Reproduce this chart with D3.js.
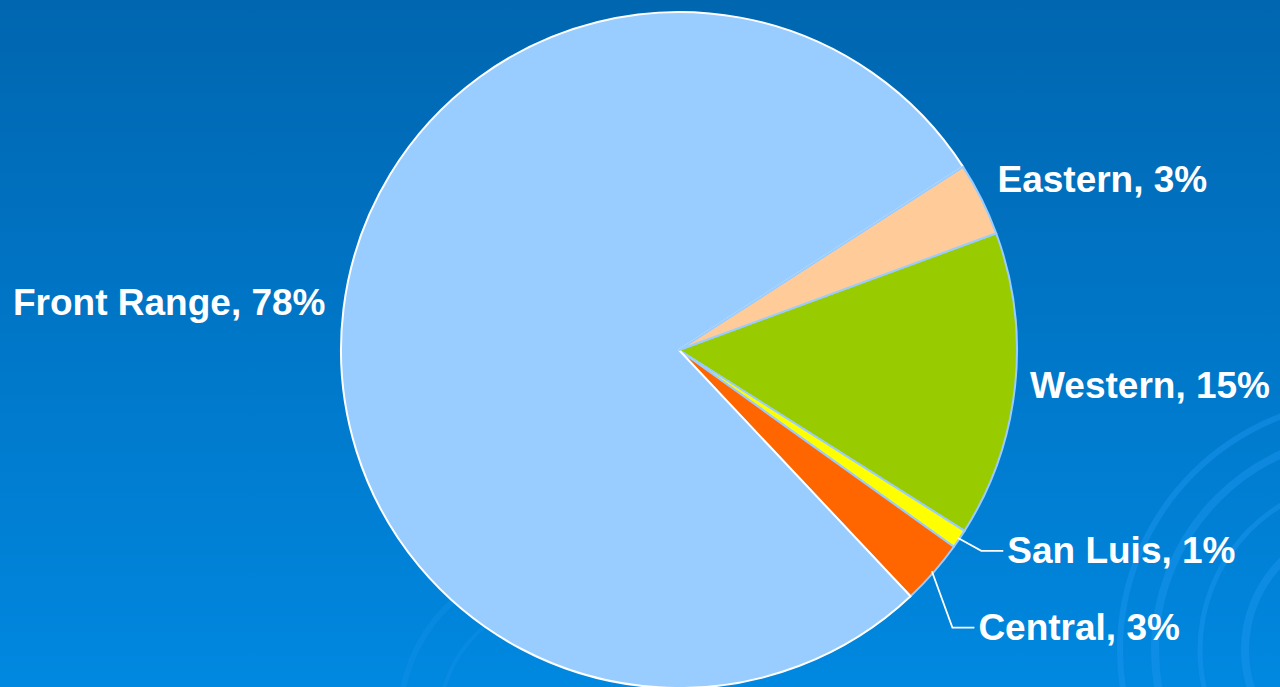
<!DOCTYPE html>
<html>
<head>
<meta charset="utf-8">
<script src="https://cdn.jsdelivr.net/npm/d3@7"></script>
<style>
  html, body { margin: 0; padding: 0; overflow: hidden; }
  svg { display: block; }
</style>
</head>
<body>
<div id="chart"></div>
<script>
// 1: DATA
const categories = ["Eastern", "Western", "San Luis", "Central", "Front Range"];
const shares = [3.5, 14.6, 0.9, 3.1, 77.9];
const labelTexts = ["Eastern, 3%", "Western, 15%", "San Luis, 1%", "Central, 3%", "Front Range, 78%"];
const sliceColors = ["#FFCC99", "#99CC00", "#FFFF00", "#FF6600", "#99CCFF"];

// layout
const W = 1280, H = 687;
const cx = 679, cy = 350, radius = 338;
const startDeg = 57.2;

// label nudges from the slice edge (dx, baseline dy) and whether a leader line is drawn
const labelLayout = {
    "Eastern":     { dx: 16,  dy: -7, leader: false },
    "Western":     { dx: 15,  dy: 12, leader: false },
    "San Luis":    { dx: 48,  dy: 24, leader: true },
    "Central":     { dx: 45,  dy: 67, leader: true },
    "Front Range": { dx: -18, dy: 6,  leader: false }
};

const svg = d3.select("#chart")
    .append("svg")
    .attr("width", W)
    .attr("height", H);

// background gradient
const defs = svg.append("defs");
const grad = defs.append("linearGradient")
    .attr("id", "bg")
    .attr("x1", 0).attr("y1", 0).attr("x2", 0).attr("y2", 1);
grad.append("stop").attr("offset", "0%").attr("stop-color", "#0066B0");
grad.append("stop").attr("offset", "100%").attr("stop-color", "#0088E0");

svg.append("rect")
    .attr("width", W)
    .attr("height", H)
    .attr("fill", "url(#bg)");

// decorative rings (slide background)
const deco = svg.append("g").attr("fill", "none").attr("stroke", "#1C96F0").attr("stroke-opacity", 0.45);
[[1370, 650, 250, 6], [1370, 650, 215, 8], [1370, 650, 170, 5], [1370, 650, 125, 8], [1370, 650, 85, 5]].forEach(r => {
    deco.append("circle").attr("cx", r[0]).attr("cy", r[1]).attr("r", r[2]).attr("stroke-width", r[3]);
});
[[560, 720, 160, 6], [560, 720, 120, 4]].forEach(r => {
    deco.append("circle").attr("cx", r[0]).attr("cy", r[1]).attr("r", r[2])
        .attr("stroke-width", r[3]).attr("stroke-opacity", 0.25);
});

// 2: PIE
const data = categories.map((c, i) => ({ name: c, value: shares[i], label: labelTexts[i] }));

const pie = d3.pie()
    .sort(null)
    .value(d => d.value)
    .startAngle(startDeg * Math.PI / 180)
    .endAngle(startDeg * Math.PI / 180 + 2 * Math.PI);

const arcs = pie(data);

const color = d3.scaleOrdinal()
    .domain(categories)
    .range(sliceColors);

const arc = d3.arc()
    .innerRadius(0)
    .outerRadius(radius);

const g = svg.append("g")
    .attr("transform", `translate(${cx},${cy})`);

// draw order: big slice before Eastern so its edge stays soft there
const drawOrder = ["Western", "San Luis", "Central", "Front Range", "Eastern"];
const ordered = drawOrder.map(n => arcs.find(a => a.data.name === n));

g.selectAll("path.slice")
    .data(ordered)
    .enter()
    .append("path")
    .attr("class", "slice")
    .attr("d", arc)
    .attr("fill", d => color(d.data.name))
    .attr("stroke", d => d.data.name === "Front Range" ? "#FFFFFF" : "#99CCFF")
    .attr("stroke-width", 2)
    .attr("stroke-linejoin", "round");

// 3: LABELS
function edgePoint(d, r) {
    const a = (d.startAngle + d.endAngle) / 2;
    return [Math.sin(a) * r, -Math.cos(a) * r];
}

arcs.forEach(d => {
    const lay = labelLayout[d.data.name];
    const [ex, ey] = edgePoint(d, radius);
    const tx = ex + lay.dx;
    const ty = ey + lay.dy;
    const right = lay.dx > 0;

    if (lay.leader) {
        const [sx, sy] = edgePoint(d, radius - 2);
        g.append("polyline")
            .attr("points", `${sx},${sy} ${tx - 26},${ty - 12} ${tx - 4},${ty - 12}`)
            .attr("fill", "none")
            .attr("stroke", "#FFFFFF")
            .attr("stroke-width", 1.8);
    }

    g.append("text")
        .attr("x", tx)
        .attr("y", ty)
        .attr("text-anchor", right ? "start" : "end")
        .attr("fill", "#FFFFFF")
        .style("font-family", "'Liberation Sans', Arial, sans-serif")
        .style("font-weight", "bold")
        .style("font-size", "37px")
        .text(d.data.label);
});
</script>
</body>
</html>
